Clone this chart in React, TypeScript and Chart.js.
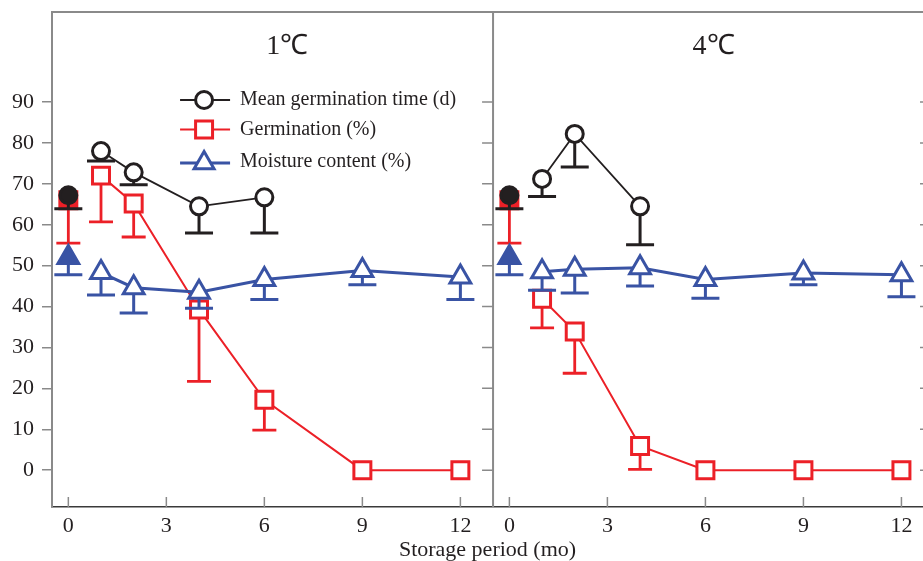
import React, { useEffect, useRef } from 'react';
import { Chart, registerables } from 'chart.js';

Chart.register(...registerables);

// ---------- data ----------
const OFFSET = 13.5; // right panel (4℃) shifted along the shared x scale
const monthTicks = [0, 3, 6, 9, 12];
const yTicks = [0, 10, 20, 30, 40, 50, 60, 70, 80, 90];
const months = [1, 2, 4, 6, 9, 12];
const seriesNames = ['Mean germination time (d)', 'Germination (%)', 'Moisture content (%)'];
const panelTitles = ['1℃', '4℃'];
const xTitle = 'Storage period (mo)';

// control (0 mo): mean germination time, germination, moisture
const controlValues = [67.2, 66, 52];
const controlErr = [3.3, 10.5, 4.2];

// 1℃
const mgt1 = [78, 72.8, 64.5, 66.7];
const mgt1Err = [2.4, 3, 6.5, 8.7];
const germ1 = [72, 65.2, 39.3, 17.2, 0, 0];
const germ1Err = [11.3, 8.2, 17.6, 7.4, 0, 0];
const moist1 = [48.3, 44.6, 43.5, 46.6, 48.8, 47.2];
const moist1Err = [5.5, 6.2, 3.9, 4.9, 3.5, 5.5];

// 4℃
const mgt4 = [71.2, 82.2, 64.5];
const mgt4Err = [4.3, 8.1, 9.4];
const germ4 = [41.9, 33.9, 5.9, 0, 0, 0];
const germ4Err = [7.1, 10.2, 5.7, 0, 0, 0];
const moist4 = [48.5, 49.1, 49.5, 46.6, 48.2, 47.8];
const moist4Err = [4.5, 5.8, 4.5, 4.6, 2.9, 5.4];

// ---------- styles ----------
const BLACK = '#231f20';
const RED = '#ec2027';
const BLUE = '#3953a4';
const GRAY = '#8a8a8a';
const FONT = "'Liberation Serif', 'Times New Roman', serif";

const pts = (vals: number[], errs: number[], off: number) =>
  vals.map((v, i) => ({ x: months[i] + off, y: v, err: errs[i] }));

const ctrlPts = (k: number) => [
  { x: 0, y: controlValues[k], err: controlErr[k] },
  { x: OFFSET, y: controlValues[k], err: controlErr[k] },
];

const mk = (data: any[], color: string, style: string, radius: number, lineW: number, filled: boolean, showLine: boolean, errW: number, capW: number) => ({
  data,
  borderColor: color,
  backgroundColor: color,
  borderWidth: lineW,
  showLine,
  pointStyle: style,
  pointRadius: radius,
  pointHoverRadius: radius,
  pointBorderWidth: 3,
  pointBorderColor: color,
  pointBackgroundColor: filled ? color : '#ffffff',
  tension: 0,
  errWidth: errW,
  capWidth: capW,
});

function drawMarker(ctx: CanvasRenderingContext2D, style: string, x: number, y: number, r: number, color: string) {
  ctx.save();
  ctx.strokeStyle = color;
  ctx.fillStyle = '#ffffff';
  ctx.lineWidth = 3;
  ctx.beginPath();
  if (style === 'circle') {
    ctx.arc(x, y, r, 0, Math.PI * 2);
  } else if (style === 'rect') {
    const s = Math.SQRT1_2 * r;
    ctx.rect(x - s, y - s, 2 * s, 2 * s);
  } else {
    for (let k = 0; k < 3; k++) {
      const a = (k * 2 * Math.PI) / 3;
      const px = x + Math.sin(a) * r;
      const py = y - Math.cos(a) * r;
      if (k === 0) ctx.moveTo(px, py);
      else ctx.lineTo(px, py);
    }
    ctx.closePath();
  }
  ctx.fill();
  ctx.stroke();
  ctx.restore();
}

const errorBars = {
  id: 'errorBars',
  beforeDatasetDraw(chart: any, args: any) {
    const ds = chart.data.datasets[args.index];
    const ys = chart.scales.y;
    const ctx = chart.ctx;
    ctx.save();
    ctx.strokeStyle = ds.borderColor;
    ctx.lineWidth = ds.errWidth;
    args.meta.data.forEach((el: any, i: number) => {
      const p = ds.data[i];
      if (!p || !p.err) return;
      const yb = ys.getPixelForValue(p.y - p.err);
      const c = ds.capWidth / 2;
      ctx.beginPath();
      ctx.moveTo(el.x, el.y);
      ctx.lineTo(el.x, yb);
      ctx.moveTo(el.x - c, yb);
      ctx.lineTo(el.x + c, yb);
      ctx.stroke();
    });
    ctx.restore();
  },
};

const decor = {
  id: 'decor',
  afterDraw(chart: any) {
    const ctx = chart.ctx;
    const { left, right, top, bottom } = chart.chartArea;
    const xs = chart.scales.x;
    const ys = chart.scales.y;
    ctx.save();
    // top border
    ctx.strokeStyle = GRAY;
    ctx.lineWidth = 2;
    ctx.beginPath();
    ctx.moveTo(left, top);
    ctx.lineTo(right, top);
    ctx.stroke();
    // divider between panels
    const dx = xs.getPixelForValue(13);
    ctx.beginPath();
    ctx.moveTo(dx, top);
    ctx.lineTo(dx, bottom);
    ctx.stroke();
    // y ticks at divider and right edge
    ctx.lineWidth = 1.5;
    yTicks.forEach((v) => {
      const py = ys.getPixelForValue(v);
      ctx.beginPath();
      ctx.moveTo(dx - 11, py);
      ctx.lineTo(dx, py);
      ctx.moveTo(right - 3, py);
      ctx.lineTo(right, py);
      ctx.stroke();
    });
    // inward x ticks
    [...monthTicks, ...monthTicks.map((m) => m + OFFSET)].forEach((v) => {
      const px = xs.getPixelForValue(v);
      ctx.beginPath();
      ctx.moveTo(px, bottom - 10);
      ctx.lineTo(px, bottom);
      ctx.stroke();
    });
    // panel titles
    ctx.fillStyle = BLACK;
    ctx.font = `28px ${FONT}`;
    ctx.textAlign = 'center';
    ctx.textBaseline = 'middle';
    ctx.fillText(panelTitles[0], xs.getPixelForValue(6.7), 47);
    ctx.fillText(panelTitles[1], xs.getPixelForValue(6.25 + OFFSET), 47);
    // legend
    const lx0 = xs.getPixelForValue(3.42);
    const rows = [
      { y: 100, color: BLACK, style: 'circle', r: 8.5, w: 2 },
      { y: 129.5, color: RED, style: 'rect', r: 12, w: 2 },
      { y: 163, color: BLUE, style: 'triangle', r: 11.5, w: 3 },
    ];
    rows.forEach((row, i) => {
      ctx.strokeStyle = row.color;
      ctx.lineWidth = row.w;
      ctx.beginPath();
      ctx.moveTo(lx0, row.y);
      ctx.lineTo(lx0 + 50, row.y);
      ctx.stroke();
      drawMarker(ctx, row.style, lx0 + 24, row.y, row.r, row.color);
      ctx.fillStyle = BLACK;
      ctx.font = `20px ${FONT}`;
      ctx.textAlign = 'left';
      ctx.textBaseline = 'middle';
      ctx.fillText(seriesNames[i], lx0 + 60, i === 2 ? row.y - 1 : row.y);
    });
    ctx.restore();
  },
};

const zeroPad = (s: any) => {
  s.paddingLeft = 0;
  s.paddingRight = 0;
  s.paddingTop = 0;
  s.paddingBottom = 0;
};

export default function App() {
  const ref = useRef<HTMLCanvasElement | null>(null);

  useEffect(() => {
    if (!ref.current) return;
    const datasets = [
      // black: mean germination time
      mk(pts(mgt1, mgt1Err, 0), BLACK, 'circle', 8.5, 1.8, false, true, 3, 28),
      mk(pts(mgt4, mgt4Err, OFFSET), BLACK, 'circle', 8.5, 1.8, false, true, 3, 28),
      mk(ctrlPts(0), BLACK, 'circle', 8.5, 1.8, true, false, 3, 28),
      // blue: moisture content
      mk(pts(moist1, moist1Err, 0), BLUE, 'triangle', 12, 3, false, true, 3, 28),
      mk(pts(moist4, moist4Err, OFFSET), BLUE, 'triangle', 12, 3, false, true, 3, 28),
      mk(ctrlPts(2), BLUE, 'triangle', 12, 3, true, false, 3, 28),
      // red: germination
      mk(pts(germ1, germ1Err, 0), RED, 'rect', 12, 2, false, true, 2.8, 24),
      mk(pts(germ4, germ4Err, OFFSET), RED, 'rect', 12, 2, false, true, 2.8, 24),
      mk(ctrlPts(1), RED, 'rect', 12, 2, true, false, 2.8, 24),
    ];

    const chart = new Chart(ref.current, {
      type: 'line',
      data: { datasets: datasets as any },
      options: {
        animation: false,
        responsive: false,
        devicePixelRatio: 1,
        layout: { autoPadding: false, padding: { top: 12, right: 0, left: 0, bottom: 0 } },
        plugins: { legend: { display: false }, tooltip: { enabled: false } },
        scales: {
          x: {
            type: 'linear',
            min: -0.5,
            max: 26.16,
            afterBuildTicks: (s: any) => {
              s.ticks = [...monthTicks, ...monthTicks.map((m) => m + OFFSET)].map((v) => ({ value: v }));
            },
            afterFit: (s: any) => {
              s.height = 54;
              zeroPad(s);
            },
            ticks: {
              autoSkip: false,
              maxRotation: 0,
              padding: 6,
              color: BLACK,
              font: { family: FONT, size: 22 },
              callback: (v: any) => String(v >= OFFSET - 0.5 ? v - OFFSET : v),
            },
            grid: { drawOnChartArea: false, drawTicks: false },
            border: { display: true, color: '#3a3a3a', width: 1.5 },
            title: {
              display: true,
              text: xTitle,
              color: BLACK,
              font: { family: FONT, size: 22, lineHeight: 1 },
              padding: { top: 0, bottom: 0 },
            },
          },
          y: {
            type: 'linear',
            min: -9,
            max: 112,
            afterBuildTicks: (s: any) => {
              s.ticks = yTicks.map((v) => ({ value: v }));
            },
            afterFit: (s: any) => {
              s.width = 52;
              zeroPad(s);
            },
            ticks: {
              padding: 8,
              color: BLACK,
              font: { family: FONT, size: 22 },
            },
            grid: { drawOnChartArea: false, drawTicks: true, tickLength: 10, color: GRAY, lineWidth: 1.5 },
            border: { display: true, color: GRAY, width: 2 },
          },
        },
      },
      plugins: [errorBars, decor],
    });
    return () => chart.destroy();
  }, []);

  return (
    <div style={{ position: 'absolute', left: 0, top: 0, width: 923, height: 561, background: '#ffffff' }}>
      <canvas ref={ref} width={923} height={561} />
    </div>
  );
}
